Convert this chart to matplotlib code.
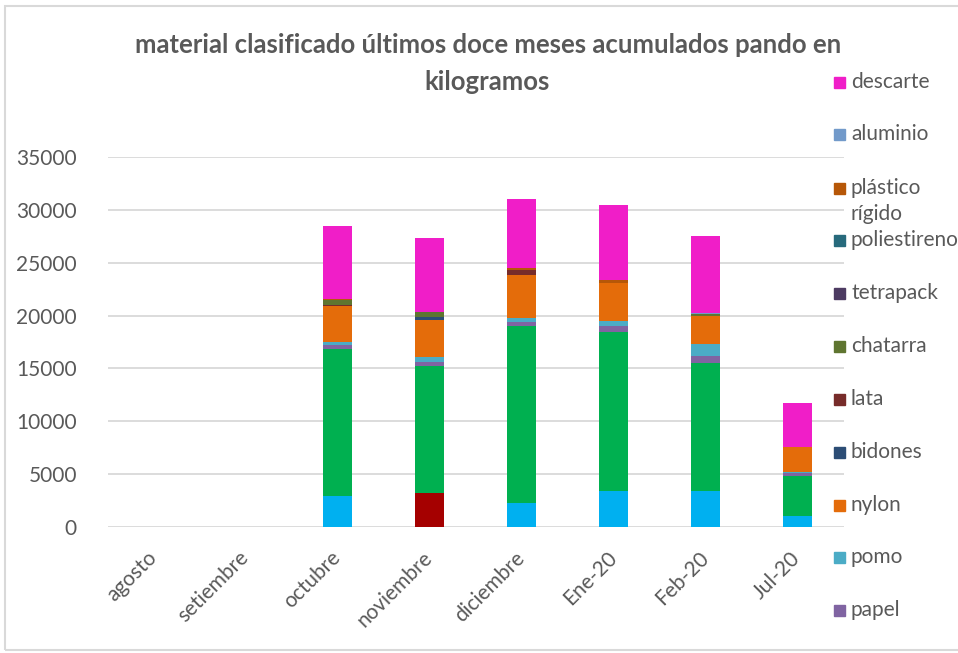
#!/usr/bin/env python
"""Material clasificado, barras apiladas por mes (kg)."""
import matplotlib.pyplot as plt
from matplotlib.patches import Rectangle
import numpy as np

plt.rcParams['font.family'] = ['Lato', 'DejaVu Sans']

GRAY = '#595959'
GRID = '#D9D9D9'

months = ['agosto', 'setiembre', 'octubre', 'noviembre', 'diciembre',
          'Ene-20', 'Feb-20', 'Jul-20']

# Series from bottom to top of the stack.
papel_blanco = [0, 0, 2900, 0, 2300, 3400, 3380, 1040]
vidrio = [0, 0, 0, 3250, 0, 0, 0, 0]
carton = [0, 0, 13900, 11980, 16720, 15020, 12110, 3780]
papel = [0, 0, 380, 380, 350, 600, 690, 260]
pomo = [0, 0, 340, 470, 370, 470, 1130, 100]
nylon = [0, 0, 3410, 3500, 4100, 3620, 2650, 2370]
bidones = [0, 0, 0, 250, 0, 0, 0, 0]
lata = [0, 0, 100, 0, 470, 0, 0, 0]
chatarra = [0, 0, 470, 470, 0, 0, 220, 0]
tetrapack = [0, 0, 0, 0, 0, 0, 0, 0]
poliestireno = [0, 0, 0, 0, 0, 0, 0, 0]
plastico_rigido = [0, 0, 100, 0, 150, 250, 0, 0]
aluminio = [0, 0, 0, 0, 0, 0, 100, 0]
descarte = [0, 0, 6850, 7040, 6530, 7060, 7290, 4150]

series = [
    ('papel blanco', papel_blanco, '#00B0F0'),
    ('vidrio', vidrio, '#A50000'),
    ('cartón', carton, '#00B050'),
    ('papel', papel, '#8064A2'),
    ('pomo', pomo, '#4BACC6'),
    ('nylon', nylon, '#E46C0A'),
    ('bidones', bidones, '#2C4D75'),
    ('lata', lata, '#772C2A'),
    ('chatarra', chatarra, '#5F7530'),
    ('tetrapack', tetrapack, '#4D3B62'),
    ('poliestireno', poliestireno, '#276A7C'),
    ('plástico\nrígido', plastico_rigido, '#B65708'),
    ('aluminio', aluminio, '#729ACA'),
    ('descarte', descarte, '#F01EC8'),
]

W, H = 958, 653
fig = plt.figure(figsize=(W / 100, H / 100), dpi=100)
ax = fig.add_axes([107.5 / W, 1 - 527 / H, 736 / W, 370 / H])

x = np.arange(len(months))
bottom = np.zeros(len(months))
for name, vals, color in series:
    vals = np.array(vals, dtype=float)
    ax.bar(x, vals, width=0.31, bottom=bottom, color=color, zorder=3)
    bottom += vals

ax.set_xlim(-0.5, len(months) - 0.5)
ax.set_ylim(0, 35000)
ax.set_yticks(np.arange(0, 35001, 5000))
ax.yaxis.grid(True, color=GRID, lw=1.3, zorder=0)
for s in ax.spines.values():
    s.set_visible(False)
ax.tick_params(axis='both', length=0, colors=GRAY, labelsize=15)
ax.tick_params(axis='y', pad=22)
ax.set_xticks(x)
ax.set_xticklabels(months, rotation=45, ha='right', va='center',
                   rotation_mode='anchor')
ax.tick_params(axis='x', pad=20)

fig.text(488 / W, 1 - 45 / H,
         'material clasificado últimos doce meses acumulados pando en',
         ha='center', va='center', fontsize=18.5, fontweight='bold',
         color=GRAY)
fig.text(487 / W, 1 - 82 / H, 'kilogramos', ha='center', va='center',
         fontsize=18.5, fontweight='bold', color=GRAY)

# Legend (clipped at the bottom in the original, only these are visible).
legend_y = [82, 134, 188, 240, 293, 346, 399, 452, 505, 557, 610]
visible = series[::-1][:len(legend_y)]
for (name, vals, color), yy in zip(visible, legend_y):
    fig.add_artist(Rectangle((834 / W, 1 - (yy + 6) / H), 11 / W, 11 / H,
                             transform=fig.transFigure, color=color))
    lines = name.split('\n')
    for k, line in enumerate(lines):
        fig.text(851 / W, 1 - (yy + 26 * k) / H, line, ha='left',
                 va='center', fontsize=15, color=GRAY)

# Chart border
fig.add_artist(Rectangle((5 / W, 1 - 650 / H), 1.0, (650 - 6) / H,
                         transform=fig.transFigure, fill=False,
                         edgecolor=GRID, lw=1.5))

fig.savefig('out.png', dpi=100)
